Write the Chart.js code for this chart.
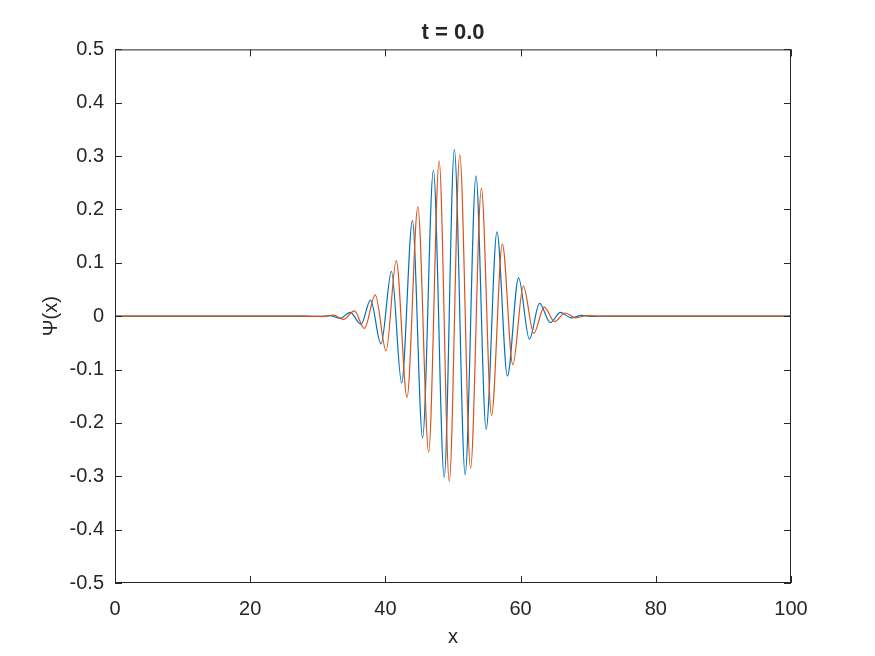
<!DOCTYPE html>
<html>
<head>
<meta charset="utf-8">
<script src="https://cdn.jsdelivr.net/npm/chart.js@4"></script>
<style>
  body { margin: 0; background: #ffffff; }
  canvas { display: block; }
</style>
</head>
<body>
<canvas id="wave" width="875" height="656"></canvas>
<script>
var reX = [0, 28, 30.3, 31.8, 33.3, 34.8, 36.4, 37.8, 39.35, 40.9, 42.4, 44.0, 45.5, 47.1, 48.7, 50.2,
           51.8, 53.4, 54.9, 56.5, 58.05, 59.7, 61.3, 62.8, 64.4, 65.9, 67.5, 69.0, 70.6, 72, 100];
var reY = [0, 0, -0.0005, 0.001, -0.004, 0.007, -0.015, 0.030, -0.052, 0.084, -0.125, 0.179, -0.228, 0.274, -0.302, 0.312,
           -0.297, 0.263, -0.212, 0.158, -0.112, 0.072, -0.043, 0.024, -0.012, 0.007, -0.003, 0.0015, -0.0005, 0, 0];

// imaginary part (red)
var imX = [0, 28, 30.8, 32.3, 33.8, 35.4, 36.9, 38.5, 40.1, 41.6, 43.2, 44.8, 46.4, 47.95, 49.45,
           51.0, 52.6, 54.2, 55.7, 57.3, 58.85, 60.4, 61.95, 63.5, 65.0, 66.6, 68.2, 69.7, 72, 100];
var imY = [0, 0, -0.0005, 0.002, -0.006, 0.010, -0.023, 0.040, -0.065, 0.104, -0.152, 0.205, -0.255, 0.291, -0.310,
           0.303, -0.285, 0.240, -0.186, 0.135, -0.091, 0.057, -0.032, 0.017, -0.010, 0.006, -0.003, 0.001, 0, 0];

var xTicks = [0, 20, 40, 60, 80, 100];
var xLabels = ['0', '20', '40', '60', '80', '100'];
var yTicks = [-0.5, -0.4, -0.3, -0.2, -0.1, 0, 0.1, 0.2, 0.3, 0.4, 0.5];
var yLabels = ['-0.5', '-0.4', '-0.3', '-0.2', '-0.1', '0', '0.1', '0.2', '0.3', '0.4', '0.5'];

var titleText = 't = 0.0';
var xTitle = 'x';
var yTitle = '\u03A8(x)';

var axisColor = '#262626';
var fontFamily = '"Liberation Sans", Arial, Helvetica, sans-serif';

function toPoints(xs, ys) {
  var pts = [];
  for (var i = 0; i < xs.length; i++) {
    pts.push({x: xs[i], y: ys[i]});
  }
  return pts;
}

// matlab style box with inward ticks on all four sides
var boxPlugin = {
  id: 'boxPlugin',
  afterDatasetsDraw: function(chart) {
    var ctx = chart.ctx;
    var a = chart.chartArea;
    var xs = chart.scales.x, ys = chart.scales.y;
    var len = 7;
    ctx.save();
    ctx.strokeStyle = axisColor;
    ctx.lineWidth = 1;
    ctx.strokeRect(a.left + 0.5, a.top + 0.5, a.right - a.left - 1, a.bottom - a.top - 1);
    ctx.beginPath();
    xTicks.forEach(function(v) {
      var px = Math.round(xs.getPixelForValue(v)) + 0.5;
      ctx.moveTo(px, a.bottom); ctx.lineTo(px, a.bottom - len);
      ctx.moveTo(px, a.top); ctx.lineTo(px, a.top + len);
    });
    yTicks.forEach(function(v) {
      var py = Math.round(ys.getPixelForValue(v)) + 0.5;
      ctx.moveTo(a.left, py); ctx.lineTo(a.left + len, py);
      ctx.moveTo(a.right, py); ctx.lineTo(a.right - len, py);
    });
    ctx.stroke();
    ctx.restore();
  }
};

new Chart(document.getElementById('wave'), {
  type: 'line',
  data: {
    datasets: [{
      label: 'Re',
      data: toPoints(reX, reY),
      borderColor: '#0072BD',
      borderWidth: 1.2,
      pointRadius: 0,
      fill: false,
      cubicInterpolationMode: 'monotone',
      order: 1
    }, {
      label: 'Im',
      data: toPoints(imX, imY),
      borderColor: '#D95319',
      borderWidth: 1.2,
      pointRadius: 0,
      fill: false,
      cubicInterpolationMode: 'monotone',
      order: 0
    }]
  },
  options: {
    responsive: false,
    animation: false,
    layout: { padding: { left: 0, right: 84, top: 0, bottom: 0 } },
    plugins: {
      legend: { display: false },
      tooltip: { enabled: false },
      title: {
        display: true,
        text: titleText,
        fullSize: false,
        color: axisColor,
        font: { family: fontFamily, size: 22, weight: 'bold', lineHeight: 1.2 },
        padding: { top: 20, bottom: 3 }
      }
    },
    scales: {
      x: {
        type: 'linear',
        min: 0,
        max: 100,
        grid: { display: false },
        border: { display: false },
        afterBuildTicks: function(scale) {
          scale.ticks = xTicks.map(function(v) { return {value: v}; });
        },
        afterFit: function(scale) { scale.height = 73; },
        ticks: {
          color: axisColor,
          padding: 6,
          maxRotation: 0,
          autoSkip: false,
          font: { family: fontFamily, size: 20 },
          callback: function(v, i) { return xLabels[i]; }
        },
        title: {
          display: true,
          text: xTitle,
          color: axisColor,
          font: { family: fontFamily, size: 20, lineHeight: 1.2 },
          padding: { top: 0, bottom: 7 }
        }
      },
      y: {
        type: 'linear',
        min: -0.5,
        max: 0.5,
        grid: { display: false },
        border: { display: false },
        afterBuildTicks: function(scale) {
          scale.ticks = yTicks.map(function(v) { return {value: v}; });
        },
        afterFit: function(scale) { scale.width = 115; },
        ticks: {
          color: axisColor,
          padding: 3,
          autoSkip: false,
          font: { family: fontFamily, size: 20 },
          callback: function(v, i) { return yLabels[i]; }
        },
        title: {
          display: true,
          text: yTitle,
          color: axisColor,
          font: { family: fontFamily, size: 20, lineHeight: 1.2 },
          padding: { top: 39, bottom: 0 }
        }
      }
    }
  },
  plugins: [boxPlugin]
});
</script>
</body>
</html>
